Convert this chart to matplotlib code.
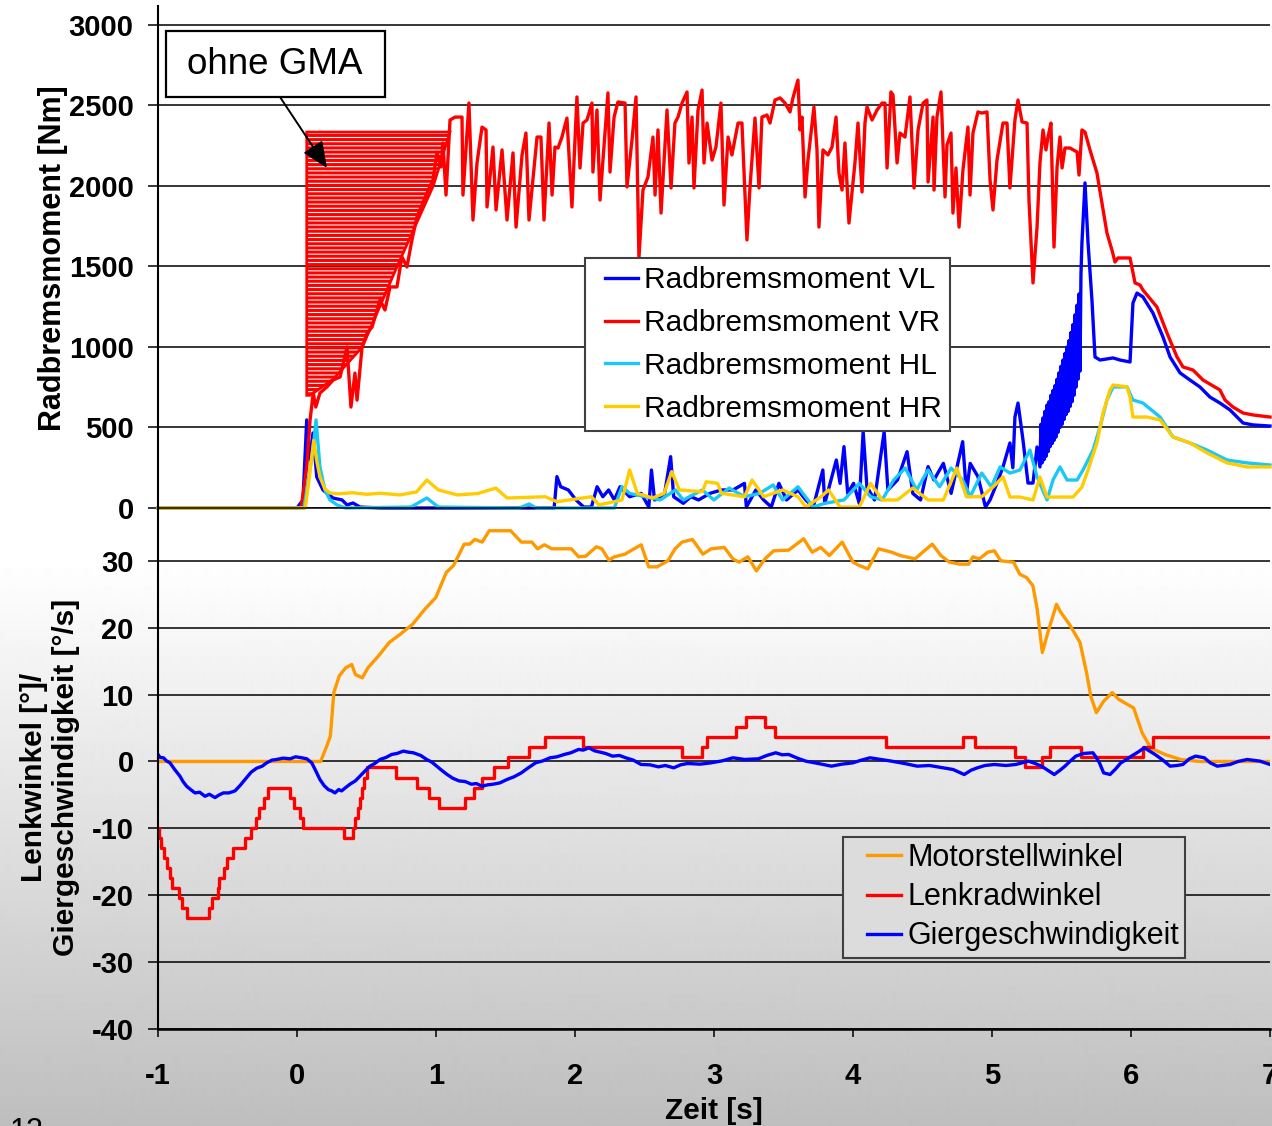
import numpy as np
import matplotlib
matplotlib.use("Agg")
import matplotlib.pyplot as plt
from matplotlib.patches import Rectangle, Polygon
from matplotlib.lines import Line2D
from matplotlib.legend_handler import HandlerLine2D

plt.rcParams['font.family'] = ['Liberation Sans', 'DejaVu Sans']
plt.rcParams['hatch.linewidth'] = 2.2
plt.rcParams['hatch.color'] = 'red'

# ---------------- data (time [s], value) ----------------
vr = [(-1.0,0),(0.0,0),(0.03,0),(0.07,256),(0.094,547),(0.117,714),(0.135,627),(0.165,714),(0.215,752),(0.26,795),(0.31,814),(0.36,1000),(0.388,627),(0.417,838),(0.432,670),(0.468,1000),(0.504,1087),(0.54,1124),(0.576,1230),(0.597,1292),(0.633,1230),(0.669,1373),(0.719,1373),(0.755,1560),(0.791,1497),(0.827,1665),(0.863,1808),(0.935,1956),(0.978,2037),(1.007,2205),(1.036,2118),(1.05,2267),(1.072,1944),(1.101,2410),(1.137,2428),(1.187,2428),(1.194,1944),(1.237,2515),(1.266,1789),(1.295,2143),(1.331,2366),(1.36,2348),(1.367,1870),(1.41,2242),(1.432,1851),(1.475,2224),(1.511,1789),(1.554,2205),(1.576,1745),(1.619,2193),(1.647,2329),(1.669,1789),(1.727,2304),(1.755,2304),(1.777,1789),(1.813,2391),(1.835,1944),(1.856,2242),(1.878,2236),(1.906,2304),(1.942,2422),(1.978,1870),(2.014,2553),(2.036,2112),(2.058,2391),(2.086,2410),(2.122,2515),(2.129,2087),(2.158,2472),(2.18,1913),(2.237,2578),(2.252,2087),(2.281,2428),(2.309,2522),(2.36,2515),(2.374,1994),(2.41,2286),(2.439,2553),(2.46,1553),(2.489,1975),(2.525,2056),(2.561,2304),(2.576,1944),(2.597,2348),(2.619,1832),(2.662,2472),(2.691,1988),(2.719,2391),(2.741,2428),(2.77,2515),(2.806,2584),(2.82,2143),(2.842,2428),(2.856,1988),(2.885,2472),(2.914,2596),(2.928,2143),(2.95,2391),(2.986,2161),(3.014,2242),(3.05,2515),(3.072,1882),(3.101,2304),(3.129,2193),(3.173,2391),(3.201,2391),(3.237,1665),(3.259,1994),(3.295,2422),(3.324,1988),(3.345,2428),(3.381,2441),(3.403,2391),(3.439,2534),(3.475,2547),(3.511,2515),(3.547,2460),(3.568,2547),(3.604,2658),(3.619,2348),(3.633,2428),(3.655,1932),(3.676,2161),(3.719,2491),(3.741,2224),(3.755,1745),(3.784,2224),(3.82,2193),(3.849,2242),(3.878,2428),(3.899,2081),(3.921,1975),(3.942,2267),(3.971,1770),(4.014,2143),(4.036,2391),(4.065,1963),(4.086,2391),(4.101,2491),(4.137,2410),(4.173,2472),(4.209,2515),(4.23,2515),(4.245,2112),(4.273,2584),(4.288,2565),(4.317,2143),(4.338,2329),(4.374,2304),(4.41,2553),(4.439,1988),(4.468,2348),(4.504,2515),(4.532,2534),(4.54,2025),(4.576,2428),(4.583,1975),(4.604,2428),(4.633,2584),(4.662,1932),(4.676,2255),(4.705,2329),(4.719,1832),(4.741,2112),(4.763,1745),(4.791,2099),(4.827,2366),(4.842,1944),(4.863,2329),(4.899,2460),(4.928,2453),(4.964,2460),(4.986,2037),(5.007,1851),(5.036,2161),(5.05,2236),(5.079,2391),(5.108,2391),(5.129,1988),(5.165,2410),(5.187,2534),(5.216,2398),(5.252,2391),(5.266,1913),(5.295,1398),(5.324,1745),(5.345,2143),(5.367,2348),(5.388,2224),(5.403,2304),(5.424,2391),(5.446,1621),(5.468,2118),(5.489,2304),(5.504,2112),(5.525,2236),(5.561,2236),(5.612,2211),(5.626,2068),(5.647,2348),(5.669,2335),(5.705,2224),(5.727,2161),(5.755,2081),(5.791,1894),(5.827,1708),(5.863,1602),(5.885,1528),(5.906,1553),(5.993,1553),(6.029,1398),(6.065,1385),(6.086,1354),(6.187,1248),(6.259,1087),(6.331,938),(6.374,876),(6.446,857),(6.518,795),(6.64,733),(6.676,671),(6.734,627),(6.806,590),(6.878,578),(7.0,565)]

vl = [(-1.0,0),(0.0,0),(0.043,50),(0.07,547),(0.094,298),(0.115,466),(0.142,193),(0.187,112),(0.259,62),(0.324,50),(0.36,19),(0.403,31),(0.453,6),(0.6,0),(1.85,0),(1.87,195),(1.897,132),(1.952,112),(2.007,50),(2.063,6),(2.118,6),(2.159,132),(2.2,70),(2.242,112),(2.283,50),(2.324,132),(2.393,70),(2.476,91),(2.531,6),(2.55,236),(2.572,50),(2.641,70),(2.688,319),(2.71,70),(2.779,29),(2.834,70),(2.889,50),(2.971,91),(3.054,112),(3.137,112),(3.219,153),(3.233,6),(3.301,112),(3.357,50),(3.412,6),(3.467,153),(3.522,50),(3.604,112),(3.66,50),(3.714,6),(3.783,236),(3.797,29),(3.88,298),(3.907,153),(3.935,381),(3.962,91),(4.004,153),(4.045,29),(4.073,474),(4.1,132),(4.155,50),(4.224,474),(4.251,112),(4.32,174),(4.389,350),(4.43,91),(4.486,50),(4.54,257),(4.582,174),(4.65,277),(4.706,91),(4.789,412),(4.816,91),(4.843,277),(4.899,195),(4.953,6),(4.986,50),(5.036,155),(5.079,255),(5.129,404),(5.15,250),(5.165,565),(5.187,652),(5.223,422),(5.259,155),(5.295,155),(5.324,379),(5.345,255),(5.352,520),(5.36,280),(5.367,560),(5.374,300),(5.381,600),(5.388,320),(5.396,640),(5.403,350),(5.41,660),(5.417,380),(5.424,700),(5.432,400),(5.439,730),(5.446,420),(5.453,760),(5.46,440),(5.468,800),(5.475,470),(5.482,840),(5.489,500),(5.496,880),(5.504,520),(5.511,920),(5.518,550),(5.525,960),(5.532,580),(5.54,1000),(5.547,600),(5.554,1040),(5.561,630),(5.568,1090),(5.576,660),(5.583,1140),(5.59,700),(5.597,1200),(5.604,750),(5.612,1260),(5.619,800),(5.626,1330),(5.633,850),(5.64,1450),(5.647,1646),(5.669,2019),(5.691,1646),(5.719,1292),(5.741,938),(5.777,919),(5.871,932),(5.921,919),(5.993,907),(6.014,1273),(6.043,1335),(6.086,1311),(6.158,1211),(6.23,1062),(6.281,938),(6.353,839),(6.424,795),(6.496,752),(6.568,689),(6.64,652),(6.712,609),(6.806,528),(6.878,516),(7.0,509)]

hl = [(-1.0,0),(0.05,0),(0.115,360),(0.137,547),(0.165,255),(0.201,112),(0.237,50),(0.288,19),(0.35,0),(0.82,6),(0.934,62),(1.017,6),(1.6,0),(1.67,25),(1.72,0),(2.283,0),(2.338,132),(2.393,91),(2.503,70),(2.613,50),(2.723,112),(2.779,50),(2.916,112),(2.999,50),(3.109,124),(3.219,70),(3.329,91),(3.425,143),(3.494,50),(3.604,132),(3.714,6),(3.797,29),(3.935,50),(4.045,153),(4.127,70),(4.21,50),(4.293,174),(4.376,248),(4.458,112),(4.54,236),(4.623,132),(4.706,248),(4.789,174),(4.843,70),(4.926,217),(4.995,132),(5.058,255),(5.129,217),(5.201,236),(5.273,360),(5.324,193),(5.396,50),(5.439,174),(5.489,255),(5.54,174),(5.612,174),(5.655,236),(5.727,360),(5.777,503),(5.827,671),(5.871,752),(5.971,752),(6.014,671),(6.086,652),(6.209,565),(6.302,441),(6.424,404),(6.547,360),(6.691,298),(6.835,280),(7.0,267)]

hr = [(-1.0,0),(0.06,0),(0.09,200),(0.12,420),(0.14,300),(0.165,193),(0.2,120),(0.237,93),(0.3,88),(0.4,95),(0.5,85),(0.6,92),(0.741,81),(0.86,100),(0.934,174),(1.017,112),(1.154,81),(1.3,90),(1.43,124),(1.512,62),(1.787,70),(1.87,39),(2.118,70),(2.173,19),(2.338,50),(2.393,236),(2.448,91),(2.558,62),(2.641,91),(2.696,226),(2.751,112),(2.916,101),(2.944,163),(3.026,153),(3.054,91),(3.219,70),(3.274,174),(3.357,70),(3.494,112),(3.604,70),(3.66,6),(3.77,70),(3.824,112),(3.907,6),(4.045,6),(4.127,153),(4.21,50),(4.32,50),(4.43,124),(4.54,50),(4.65,50),(4.747,248),(4.816,70),(4.926,70),(5.009,132),(5.079,193),(5.129,68),(5.201,68),(5.295,50),(5.345,193),(5.396,68),(5.468,68),(5.583,68),(5.647,130),(5.691,236),(5.755,404),(5.799,590),(5.849,733),(5.871,764),(5.971,752),(5.993,689),(6.014,565),(6.115,565),(6.209,547),(6.302,441),(6.424,404),(6.547,342),(6.691,280),(6.835,255),(7.0,255)]

# hatched "ohne GMA" region: right boundary (value, time)
hatch_v = [700, 800, 1000, 1500, 2000, 2335]
hatch_t_right = [0.094, 0.26, 0.47, 0.72, 0.98, 1.10]
hatch_t_left = 0.07

motor = [(-1.0,0),(0.17,0),(0.214,2.3),(0.24,3.8),(0.265,10.3),(0.304,12.8),(0.35,14.0),(0.394,14.5),(0.42,13.0),(0.47,12.5),(0.51,14.0),(0.587,15.8),(0.664,17.8),(0.741,19.0),(0.831,20.5),(0.921,22.8),(0.998,24.5),(1.075,28.3),(1.126,29.3),(1.203,32.5),(1.242,32.5),(1.28,33.2),(1.332,32.8),(1.383,34.5),(1.537,34.5),(1.614,32.8),(1.69,32.8),(1.73,31.8),(1.78,32.4),(1.833,31.8),(1.974,31.8),(2.026,30.6),(2.077,30.7),(2.154,32.1),(2.193,31.8),(2.244,30.1),(2.283,30.6),(2.36,31.0),(2.4,31.5),(2.476,32.4),(2.53,29.1),(2.59,29.1),(2.668,30.0),(2.72,31.8),(2.77,32.8),(2.845,33.2),(2.92,31.0),(2.98,31.8),(3.074,32.0),(3.136,30.3),(3.18,29.8),(3.244,30.6),(3.305,28.5),(3.367,30.3),(3.429,31.5),(3.537,31.6),(3.645,33.3),(3.706,31.3),(3.768,32.0),(3.83,30.8),(3.922,32.8),(4.0,29.8),(4.045,29.3),(4.107,28.8),(4.184,31.8),(4.277,31.3),(4.338,30.8),(4.446,30.3),(4.57,32.5),(4.632,30.8),(4.693,29.8),(4.77,29.5),(4.832,29.5),(4.862,30.6),(4.909,30.3),(4.97,31.3),(5.017,31.5),(5.063,30.0),(5.155,29.8),(5.2,28.0),(5.248,27.5),(5.294,26.3),(5.325,22.8),(5.362,16.3),(5.402,19.3),(5.464,23.5),(5.495,22.3),(5.557,20.5),(5.633,17.8),(5.68,13.3),(5.71,9.8),(5.751,7.3),(5.803,9.0),(5.865,10.3),(5.911,9.3),(6.019,8.0),(6.08,4.3),(6.142,2.0),(6.25,1.0),(6.358,0.3),(6.496,0),(7.0,0)]

lenkrad = [(-1.0,-9.9),(-0.993,-11.4),(-0.978,-12.9),(-0.96,-14.4),(-0.935,-15.9),(-0.915,-17.4),(-0.902,-18.9),(-0.849,-20.4),(-0.83,-21.9),(-0.794,-23.4),(-0.63,-21.9),(-0.612,-20.4),(-0.57,-18.9),(-0.56,-17.4),(-0.525,-15.9),(-0.506,-14.4),(-0.464,-12.9),(-0.372,-11.4),(-0.332,-9.9),(-0.296,-8.4),(-0.27,-6.9),(-0.24,-5.4),(-0.212,-3.9),(-0.05,-5.4),(-0.02,-6.9),(0.02,-8.4),(0.046,-9.9),(0.34,-11.4),(0.40,-9.9),(0.42,-8.4),(0.44,-6.9),(0.455,-5.4),(0.468,-3.9),(0.48,-2.4),(0.50,-0.9),(0.71,-2.4),(0.865,-3.9),(0.953,-5.4),(1.02,-6.9),(1.21,-5.4),(1.27,-3.9),(1.33,-2.4),(1.415,-0.9),(1.52,0.6),(1.668,2.1),(1.785,3.6),(2.06,2.1),(2.77,0.6),(2.915,2.1),(2.95,3.6),(3.155,5.1),(3.23,6.6),(3.37,5.1),(3.44,3.6),(4.235,2.1),(4.788,3.6),(4.88,2.1),(5.168,0.6),(5.235,-0.9),(5.36,0.6),(5.42,2.1),(5.643,0.6),(6.083,2.1),(6.158,3.6),(7.0,3.6)]

gier = [(-1.0,1.05),(-0.985,0.6),(-0.96,0.55),(-0.94,0.1),(-0.914,-0.2),(-0.88,-1.2),(-0.842,-2.2),(-0.82,-3.0),(-0.794,-3.7),(-0.765,-4.2),(-0.734,-4.7),(-0.7,-4.6),(-0.662,-5.2),(-0.63,-4.9),(-0.59,-5.4),(-0.56,-5.0),(-0.53,-4.7),(-0.49,-4.7),(-0.446,-4.4),(-0.41,-3.6),(-0.362,-2.4),(-0.33,-1.6),(-0.29,-1.0),(-0.25,-0.7),(-0.218,-0.2),(-0.18,0.2),(-0.146,0.3),(-0.1,0.5),(-0.05,0.4),(-0.01,0.7),(0.034,0.55),(0.07,0.4),(0.106,-0.2),(0.135,-1.4),(0.165,-2.7),(0.195,-3.6),(0.225,-4.2),(0.25,-4.4),(0.273,-4.7),(0.3,-4.2),(0.321,-4.4),(0.35,-3.9),(0.381,-3.4),(0.42,-2.9),(0.453,-2.2),(0.49,-1.4),(0.525,-0.7),(0.56,-0.3),(0.597,0.3),(0.64,0.6),(0.681,1.05),(0.72,1.2),(0.765,1.55),(0.8,1.4),(0.837,1.3),(0.89,0.9),(0.933,0.3),(0.97,-0.1),(1.005,-0.7),(1.04,-1.3),(1.077,-1.9),(1.12,-2.5),(1.165,-2.9),(1.21,-3.0),(1.255,-3.4),(1.29,-3.3),(1.332,-3.7),(1.37,-3.5),(1.41,-3.4),(1.46,-3.2),(1.51,-2.7),(1.56,-2.3),(1.614,-1.7),(1.66,-1.0),(1.717,-0.2),(1.77,0.1),(1.82,0.55),(1.87,0.7),(1.923,1.05),(1.97,1.3),(2.026,1.8),(2.06,1.7),(2.1,2.05),(2.14,1.6),(2.18,1.4),(2.22,1.2),(2.27,0.8),(2.32,0.9),(2.365,0.55),(2.42,0.2),(2.475,-0.45),(2.54,-0.5),(2.6,-0.8),(2.65,-0.6),(2.71,-0.95),(2.76,-0.5),(2.81,-0.3),(2.9,-0.4),(2.98,-0.2),(3.06,0.1),(3.136,0.55),(3.22,0.3),(3.32,0.4),(3.38,0.9),(3.444,1.3),(3.49,1.0),(3.537,1.05),(3.6,0.5),(3.66,0.05),(3.75,-0.3),(3.845,-0.7),(3.92,-0.4),(4.0,-0.2),(4.06,0.2),(4.122,0.55),(4.2,0.3),(4.277,0.05),(4.37,-0.3),(4.462,-0.7),(4.55,-0.6),(4.647,-0.95),(4.72,-1.2),(4.8,-1.95),(4.85,-1.3),(4.894,-0.95),(4.95,-0.6),(5.017,-0.45),(5.1,-0.6),(5.171,-0.45),(5.263,0.05),(5.31,-0.3),(5.356,-0.7),(5.4,-1.3),(5.448,-1.95),(5.49,-1.3),(5.525,-0.7),(5.56,0.0),(5.603,0.8),(5.66,1.2),(5.726,1.3),(5.75,0.6),(5.773,-0.2),(5.803,-1.7),(5.849,-1.95),(5.89,-1.1),(5.927,-0.2),(5.96,0.2),(6.003,0.8),(6.05,1.4),(6.096,2.05),(6.13,1.6),(6.173,1.05),(6.23,0.2),(6.281,-0.7),(6.33,-0.6),(6.373,-0.45),(6.42,0.4),(6.465,0.8),(6.528,0.55),(6.57,-0.2),(6.62,-0.7),(6.712,-0.45),(6.77,0.0),(6.836,0.3),(6.928,0.05),(7.0,-0.45)]

top_labels = ["Radbremsmoment VL", "Radbremsmoment VR", "Radbremsmoment HL", "Radbremsmoment HR"]
bot_labels = ["Motorstellwinkel", "Lenkradwinkel", "Giergeschwindigkeit"]
x_ticks = [-1, 0, 1, 2, 3, 4, 5, 6, 7]
top_ticks = [0, 500, 1000, 1500, 2000, 2500, 3000]
bot_ticks = [-40, -30, -20, -10, 0, 10, 20, 30]

C_BLUE, C_RED, C_CYAN, C_YEL, C_ORA = '#0000ff', '#ff0000', '#19c8f5', '#ffcc00', '#ff9900'

# ---------------- figure ----------------
W, H = 1272, 1126
fig = plt.figure(figsize=(W / 100, H / 100), dpi=100)

bg = fig.add_axes([0, 0, 1, 1], zorder=-10)
rows = np.arange(H)
gval = np.where(rows < 560, 255.0, 255.0 - (rows - 560) * (65.0 / 566.0)) / 255.0
bg.imshow(np.repeat(gval[:, None], 2, axis=1), cmap='gray', vmin=0, vmax=1,
          aspect='auto', extent=[0, 1, 0, 1], interpolation='bilinear')
bg.axis('off')

L, R = 158 / W, 1270 / W
ax1 = fig.add_axes([L, (H - 508) / H, R - L, (508 - 6) / H])
ax2 = fig.add_axes([L, (H - 1029) / H, R - L, (1029 - 508) / H])
for ax in (ax1, ax2):
    ax.set_facecolor('none')
    ax.set_xlim(-1, 7)
    ax.set_axisbelow(True)
    ax.yaxis.grid(True, color='black', lw=1.1)
    ax.spines['top'].set_visible(False)
    ax.spines['right'].set_visible(False)
    ax.spines['left'].set_linewidth(1.5)
    ax.tick_params(axis='y', direction='out', length=7.5, width=1.1, pad=10)

ax1.set_ylim(0, 3118)
ax2.set_ylim(-40, 37.9)
ax1.spines['bottom'].set_linewidth(1.1)
ax2.spines['bottom'].set_linewidth(1.8)
ax1.tick_params(axis='x', bottom=False, labelbottom=False)
ax1.set_yticks(top_ticks, [str(v) for v in top_ticks], fontsize=21, fontweight='bold')
ax2.set_yticks(bot_ticks, [str(v) for v in bot_ticks], fontsize=21, fontweight='bold')
ax2.set_xticks(x_ticks, [str(v) for v in x_ticks], fontsize=21, fontweight='bold')
ax2.tick_params(axis='x', direction='out', length=6, width=1.1, pad=18)

# hatched region
poly = [(hatch_t_left, hatch_v[0])] + [(hatch_t_left, hatch_v[-1])] + \
       list(zip(hatch_t_right[::-1], hatch_v[::-1]))
ax1.add_patch(Polygon(poly, closed=True, facecolor='none', edgecolor=C_RED,
                      lw=2.0, hatch='----', zorder=1.5))

lw = 2.4
series_top = [(vl, C_BLUE), (vr, C_RED), (hl, C_CYAN), (hr, C_YEL)]
handles_top = []
for (data, col), lab in zip(series_top, top_labels):
    t, v = zip(*data)
    ln, = ax1.plot(t, v, color=col, lw=lw, label=lab, clip_on=False, zorder=2,
                   solid_joinstyle='round')
    handles_top.append(ln)

t, v = zip(*motor)
l1, = ax2.plot(t, v, color=C_ORA, lw=lw, label=bot_labels[0])
t, v = zip(*lenkrad)
l2, = ax2.plot(t, v, color=C_RED, lw=lw, drawstyle='steps-post', label=bot_labels[1])
t, v = zip(*gier)
l3, = ax2.plot(t, v, color=C_BLUE, lw=lw, label=bot_labels[2])

leg1 = ax1.legend(handles=handles_top, loc='upper left',
                  bbox_to_anchor=(585 / W, 1 - 258 / H), bbox_transform=fig.transFigure,
                  borderaxespad=0, fontsize=21.5, fancybox=False, framealpha=1,
                  facecolor='white', edgecolor='#404040', borderpad=0.27,
                  labelspacing=0.5, handlelength=1.5, handletextpad=0.22,
                  handler_map={Line2D: HandlerLine2D(xpad=0.4)})
leg1.get_frame().set_linewidth(1.5)

leg2 = ax2.legend(handles=[l1, l2, l3], loc='upper left',
                  bbox_to_anchor=(843 / W, 1 - 837 / H), bbox_transform=fig.transFigure,
                  borderaxespad=0, fontsize=22, fancybox=False, framealpha=1,
                  facecolor='#dcdcdc', edgecolor='#404040', borderpad=0.2,
                  labelspacing=0.3, handlelength=1.7, handletextpad=0.2,
                  handler_map={Line2D: HandlerLine2D(xpad=0.6)})
leg2.get_frame().set_linewidth(1.5)

# annotation box with arrow
fig.add_artist(Rectangle((166 / W, 1 - 97 / H), (385 - 166) / W, (97 - 31) / H,
                         transform=fig.transFigure, facecolor='white',
                         edgecolor='black', lw=1.6, zorder=5))
fig.text(275 / W, 1 - 65 / H, 'ohne GMA', fontsize=26.5, ha='center', va='center', zorder=6)
ax1.annotate('', xy=(0.216, 2112), xycoords='data',
             xytext=(280 / W, 1 - 97 / H), textcoords='figure fraction',
             arrowprops=dict(arrowstyle='-|>,head_length=0.5,head_width=0.22',
                             color='black', lw=1.4, mutation_scale=32,
                             shrinkA=0, shrinkB=0), annotation_clip=False)

# axis labels
fig.text(53 / W, 1 - 258 / H, 'Radbremsmoment [Nm]', rotation=90, ha='center',
         va='center', fontsize=22, fontweight='bold')
fig.text(50 / W, 1 - 777 / H, 'Lenkwinkel [°]/\nGiergeschwindigkeit [°/s]', rotation=90,
         ha='center', va='center', multialignment='center', linespacing=1.2,
         fontsize=21.5, fontweight='bold')
fig.text(714 / W, 1 - 1111 / H, 'Zeit [s]', ha='center', va='center',
         fontsize=21.5, fontweight='bold')
fig.text(10 / W, 1 - 1117 / H, '12', ha='left', va='top', fontsize=22)

fig.savefig('out.png', dpi=100)
